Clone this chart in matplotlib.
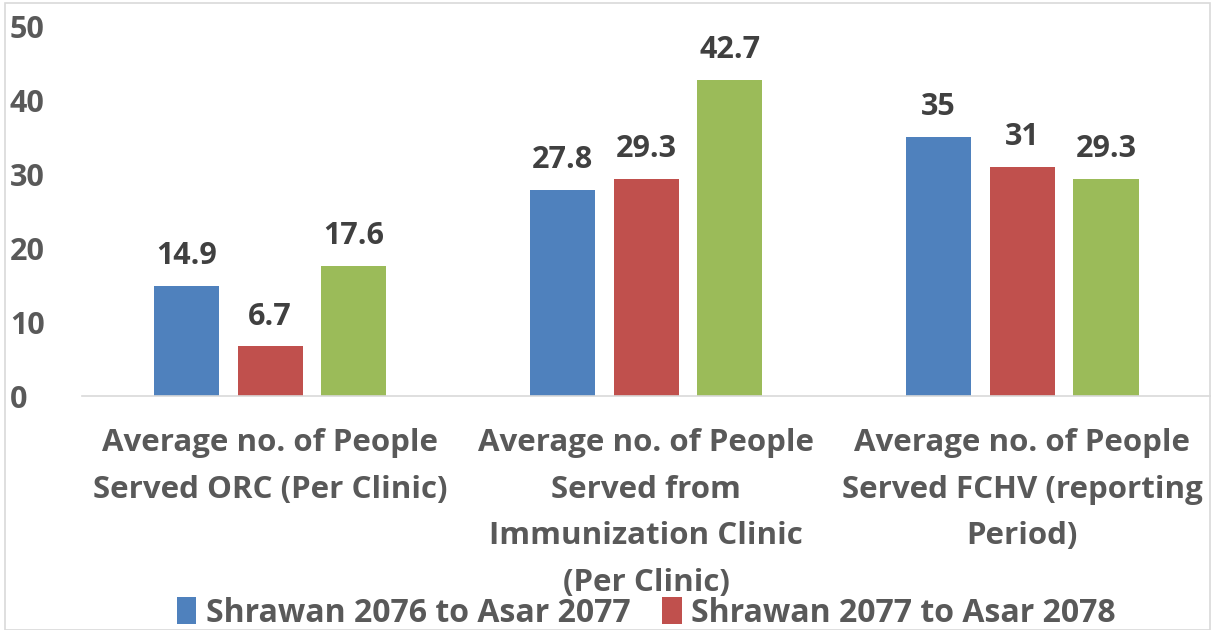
import numpy as np
import matplotlib
matplotlib.use("Agg")
import matplotlib.pyplot as plt
from matplotlib.patches import Rectangle

categories = [
    "Average no. of People\nServed ORC (Per Clinic)",
    "Average no. of People\nServed from\nImmunization Clinic\n(Per Clinic)",
    "Average no. of People\nServed FCHV (reporting\nPeriod)",
]
series_names = ["Shrawan 2076 to Asar 2077", "Shrawan 2077 to Asar 2078",
                "Shrawan 2078 to Asar 2079"]
values_2076 = [14.9, 27.8, 35]
values_2077 = [6.7, 29.3, 31]
values_2078 = [17.6, 42.7, 29.3]
labels_2076 = ["14.9", "27.8", "35"]
labels_2077 = ["6.7", "29.3", "31"]
labels_2078 = ["17.6", "42.7", "29.3"]
yticks = [0, 10, 20, 30, 40, 50]

colors = ["#4f81bd", "#c0504d", "#9bbb59"]
txt = "#595959"
plt.rcParams['font.family'] = ['Open Sans', 'DejaVu Sans']

fig = plt.figure(figsize=(12.15, 6.3), dpi=100)
ax = fig.add_axes([0.0675, 0.3714, 0.9285, 0.5873])

x = np.arange(len(categories))
w = 0.173
step = 0.223
all_vals = [values_2076, values_2077, values_2078]
all_labels = [labels_2076, labels_2077, labels_2078]
handles = []
for i, (vals, labs) in enumerate(zip(all_vals, all_labels)):
    pos = x + (i - 1) * step
    b = ax.bar(pos, vals, width=w, color=colors[i], label=series_names[i])
    handles.append(b)
    for p, v, l in zip(pos, vals, labs):
        ax.text(p, v + 2.0, l, ha='center', va='bottom', fontsize=22,
                fontweight='bold', color='#404040')

ax.set_xlim(-0.5, 2.5)
ax.set_ylim(0, 50)
ax.set_yticks(yticks)
ax.set_yticklabels([str(t) for t in yticks], fontsize=22, fontweight='bold', color=txt)
ax.tick_params(axis='y', length=0, pad=52)
for lab in ax.get_yticklabels():
    lab.set_horizontalalignment('left')
ax.set_xticks(x)
ax.set_xticklabels(categories, fontsize=22.5, fontweight='bold', color=txt, va='top')
for lab in ax.get_xticklabels():
    lab.set_linespacing(1.72)
ax.tick_params(axis='x', length=0, pad=23)
for s in ['top', 'right', 'left']:
    ax.spines[s].set_visible(False)
ax.spines['bottom'].set_color('#d9d9d9')
ax.spines['bottom'].set_linewidth(1.2)

fig.legend(handles[:2], series_names[:2], loc='lower center', ncol=2,
           bbox_to_anchor=(0.532, -0.045), frameon=False,
           prop={'weight': 'bold', 'size': 23}, handlelength=0.6, handleheight=0.9,
           handletextpad=0.3, columnspacing=1.0, labelcolor=txt)

fig.patches.append(Rectangle((0.004, 0.0), 0.992, 0.995, transform=fig.transFigure,
                             fill=False, edgecolor='#d9d9d9', linewidth=1.2))

fig.savefig("out.png", dpi=100)
